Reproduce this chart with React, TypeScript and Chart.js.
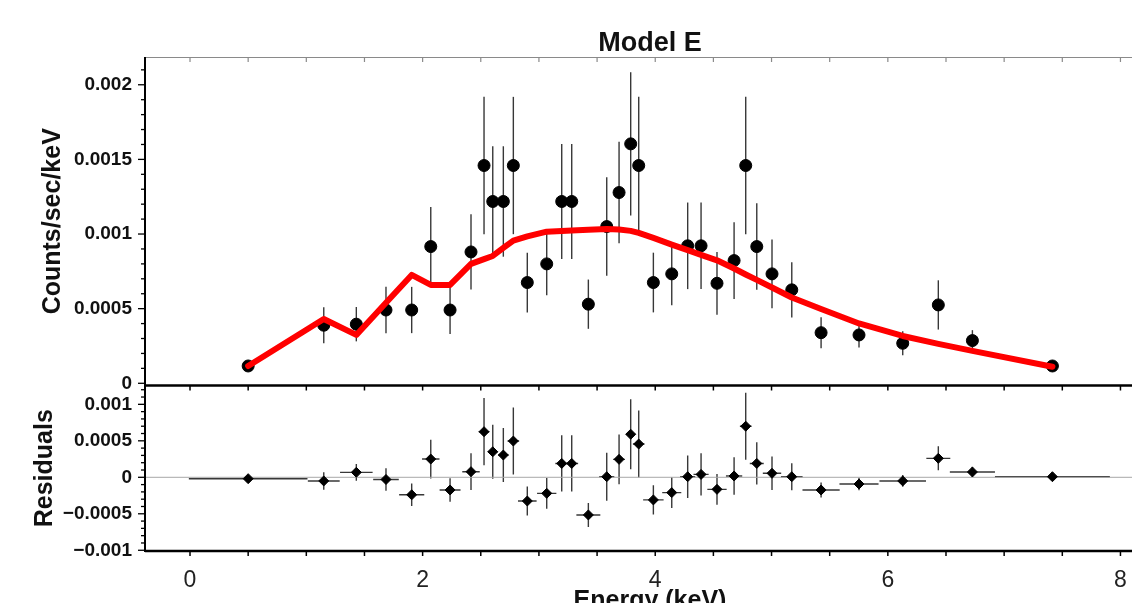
import React, { useEffect, useRef } from "react";
import { Chart, registerables } from "chart.js";

Chart.register(...registerables);

// ---- data ----
const energy = [0.50, 1.15, 1.43, 1.685, 1.906, 2.07, 2.236, 2.416, 2.528, 2.603, 2.694, 2.78, 2.9, 3.067, 3.196, 3.282, 3.425, 3.583, 3.689, 3.789, 3.858, 3.984, 4.142, 4.279, 4.394, 4.531, 4.678, 4.778, 4.873, 5.004, 5.174, 5.426, 5.752, 6.128, 6.434, 6.727, 7.415];
const energyHalfWidth = [0.51, 0.137, 0.14, 0.11, 0.108, 0.075, 0.09, 0.075, 0.045, 0.042, 0.045, 0.05, 0.08, 0.083, 0.055, 0.055, 0.103, 0.065, 0.05, 0.04, 0.05, 0.088, 0.082, 0.065, 0.065, 0.083, 0.07, 0.05, 0.06, 0.079, 0.093, 0.16, 0.168, 0.2, 0.103, 0.194, 0.494];
const counts = [0.000116, 0.000389, 0.000396, 0.000491, 0.000491, 0.000916, 0.000491, 0.00088, 0.001459, 0.001218, 0.001218, 0.001459, 0.000675, 0.0008, 0.001218, 0.001218, 0.00053, 0.00105, 0.001278, 0.001604, 0.001459, 0.000675, 0.000733, 0.000921, 0.000921, 0.00067, 0.000822, 0.001459, 0.000916, 0.000733, 0.000626, 0.000339, 0.000324, 0.000268, 0.000525, 0.000286, 0.000116];
const countsErr = [0.00002, 0.00012, 0.000115, 0.000155, 0.000155, 0.000265, 0.00016, 0.000252, 0.00046, 0.00037, 0.00037, 0.00046, 0.0002, 0.00021, 0.000385, 0.000385, 0.000165, 0.00033, 0.00034, 0.00048, 0.00046, 0.0002, 0.00021, 0.00029, 0.00029, 0.00021, 0.000257, 0.00046, 0.00029, 0.00023, 0.000185, 0.000104, 0.000085, 0.00008, 0.000165, 0.00007, 0.00002];
const model = [0.000116, 0.000431, 0.000324, 0.00054, 0.000726, 0.000659, 0.000659, 0.0008, 0.000832, 0.000853, 0.000907, 0.000956, 0.000984, 0.001016, 0.001021, 0.001023, 0.001028, 0.001033, 0.001031, 0.001021, 0.001008, 0.000974, 0.000929, 0.000892, 0.00086, 0.000824, 0.000769, 0.000729, 0.000693, 0.000642, 0.000575, 0.000498, 0.000401, 0.000317, 0.000264, 0.000217, 0.000111];
const residuals = [-0.000019, -0.00005, 0.000068, -0.00003, -0.00024, 0.00025, -0.000174, 0.000077, 0.000625, 0.00035, 0.000305, 0.000497, -0.000325, -0.00022, 0.00019, 0.00019, -0.000516, 0.000008, 0.000246, 0.00059, 0.000456, -0.00031, -0.00021, 0.000008, 0.00004, -0.000165, 0.000018, 0.0007, 0.00019, 0.000055, 0.000008, -0.000174, -0.000092, -0.00005, 0.00026, 0.000073, 0.000008];

const energyTicks = [0, 2, 4, 6, 8];
const energyTickLabels = ["0", "2", "4", "6", "8"];
const countTicks = [0, 0.0005, 0.001, 0.0015, 0.002];
const countTickLabels = ["0", "0.0005", "0.001", "0.0015", "0.002"];
const residTicks = [-0.001, -0.0005, 0, 0.0005, 0.001];
const residTickLabels = ["\u22120.001", "\u22120.0005", "0", "0.0005", "0.001"];

const FONT = "'Liberation Sans', Arial, Helvetica, sans-serif";
const CANVAS_W = 1170;
const CANVAS_H = 603;

function labelFor(values: number[], labels: string[], v: number) {
  const i = values.findIndex((t) => Math.abs(t - v) < 1e-9);
  return i >= 0 ? labels[i] : "";
}

const panelPlugin = {
  id: "panelDecor",
  beforeDatasetsDraw(chart: any) {
    const { ctx } = chart;
    const xs = chart.scales.x;
    const ys = chart.scales.y;
    const yr = chart.scales.yr;
    ctx.save();
    ctx.strokeStyle = "#383838";
    ctx.lineWidth = 1.4;
    energy.forEach((e, i) => {
      const px = xs.getPixelForValue(e);
      ctx.beginPath();
      ctx.moveTo(px, ys.getPixelForValue(counts[i] - countsErr[i]));
      ctx.lineTo(px, ys.getPixelForValue(counts[i] + countsErr[i]));
      ctx.stroke();
      const rp = yr.getPixelForValue(residuals[i]);
      ctx.beginPath();
      ctx.moveTo(px, yr.getPixelForValue(residuals[i] - countsErr[i]));
      ctx.lineTo(px, yr.getPixelForValue(residuals[i] + countsErr[i]));
      ctx.moveTo(xs.getPixelForValue(e - energyHalfWidth[i]), rp);
      ctx.lineTo(xs.getPixelForValue(e + energyHalfWidth[i]), rp);
      ctx.stroke();
    });
    ctx.restore();
  },
  afterDraw(chart: any) {
    const { ctx, chartArea } = chart;
    const xs = chart.scales.x;
    const ys = chart.scales.y;
    const yr = chart.scales.yr;
    const { left, right, top, bottom } = chartArea;
    const split = yr.top;
    const line = (x1: number, y1: number, x2: number, y2: number, c: string, w: number) => {
      ctx.strokeStyle = c;
      ctx.lineWidth = w;
      ctx.beginPath();
      ctx.moveTo(x1, y1);
      ctx.lineTo(x2, y2);
      ctx.stroke();
    };
    ctx.save();
    ctx.lineCap = "butt";
    // top border of upper panel
    line(left, top + 0.5, right, top + 0.5, "#8a8a8a", 1.2);
    for (let k = 0; k <= 16; k++) {
      const px = xs.getPixelForValue(k * 0.5);
      line(px, top, px, top + 5, "#8a8a8a", 1.2);
    }
    // divider between panels
    line(left, split, right, split, "#000", 2.5);
    for (let k = 0; k <= 16; k++) {
      const px = xs.getPixelForValue(k * 0.5);
      line(px, split, px, split + 5, "#000", 1.5);
    }
    // bottom frame
    line(left, bottom, right, bottom, "#000", 2.5);
    for (let k = 0; k <= 16; k++) {
      const px = xs.getPixelForValue(k * 0.5);
      line(px, bottom, px, bottom + 5, "#000", 1.5);
    }
    // left axis
    line(left, top, left, bottom + 1, "#000", 2);
    for (let k = 0; k <= 21; k++) {
      const v = k * 0.0001;
      const py = ys.getPixelForValue(v);
      const len = k % 5 === 0 ? 7 : 4;
      line(left - len, py, left, py, "#000", 1.3);
    }
    for (let k = -10; k <= 12; k++) {
      const v = k * 0.0001;
      const py = yr.getPixelForValue(v);
      const len = k % 5 === 0 ? 7 : 4;
      line(left - len, py, left, py, "#000", 1.3);
    }
    ctx.restore();
  },
};

export default function App() {
  const ref = useRef<HTMLCanvasElement | null>(null);

  useEffect(() => {
    const canvas = ref.current;
    if (!canvas) return;
    const chart = new Chart(canvas, {
      type: "scatter",
      data: {
        datasets: [
          {
            type: "line",
            label: "Model",
            data: energy.map((e, i) => ({ x: e, y: model[i] })),
            yAxisID: "y",
            borderColor: "#ff0000",
            borderWidth: 6,
            pointRadius: 0,
            tension: 0,
            borderJoinStyle: "round",
            borderCapStyle: "round",
            order: 0,
          } as any,
          {
            label: "Data",
            data: energy.map((e, i) => ({ x: e, y: counts[i] })),
            yAxisID: "y",
            pointStyle: "circle",
            pointRadius: 6,
            backgroundColor: "#000",
            borderColor: "#000",
            borderWidth: 1,
            order: 1,
          },
          {
            label: "Residuals",
            data: energy.map((e, i) => ({ x: e, y: residuals[i] })),
            yAxisID: "yr",
            pointStyle: "rectRot",
            pointRadius: 5,
            backgroundColor: "#000",
            borderColor: "#000",
            borderWidth: 1,
            order: 1,
          },
          {
            type: "line",
            label: "Zero",
            data: [
              { x: -1, y: 0 },
              { x: 9, y: 0 },
            ],
            yAxisID: "yr",
            borderColor: "#a8a8a8",
            borderWidth: 1,
            pointRadius: 0,
            order: 3,
          } as any,
        ],
      },
      options: {
        animation: false,
        responsive: false,
        devicePixelRatio: 1,
        layout: { padding: { left: 0, right: CANVAS_W - 1155, top: 0, bottom: 0 } },
        plugins: {
          legend: { display: false },
          tooltip: { enabled: false },
          title: {
            display: true,
            text: "Model E",
            fullSize: false,
            color: "#111",
            font: { family: FONT, size: 27, weight: "bold", lineHeight: 1 },
            padding: { top: 30, bottom: 0 },
          },
        },
        scales: {
          x: {
            type: "linear",
            position: "bottom",
            min: -0.387,
            max: 8.297,
            afterBuildTicks: (s: any) => {
              s.ticks = energyTicks.map((v) => ({ value: v }));
            },
            afterFit: (s: any) => {
              s.height = 52;
            },
            grid: { display: false },
            border: { display: false },
            ticks: {
              autoSkip: false,
              maxRotation: 0,
              padding: 8,
              color: "#222",
              font: { family: FONT, size: 23 },
              callback: (v: any) => labelFor(energyTicks, energyTickLabels, Number(v)),
            },
            title: {
              display: true,
              text: "Energy (keV)",
              color: "#111",
              font: { family: FONT, size: 25, weight: "bold", lineHeight: 1 },
              padding: { top: 0, bottom: -11 },
            },
          },
          yr: {
            type: "linear",
            position: "left",
            stack: "panels",
            stackWeight: 165.5,
            min: -0.00101,
            max: 0.001258,
            afterBuildTicks: (s: any) => {
              s.ticks = residTicks.map((v) => ({ value: v }));
            },
            afterFit: (s: any) => {
              s.width = 145;
            },
            grid: { display: false },
            border: { display: false },
            ticks: {
              autoSkip: false,
              padding: 5,
              color: "#111",
              font: { family: FONT, size: 19, weight: "bold" },
              callback: (v: any) => labelFor(residTicks, residTickLabels, Number(v)),
            },
            title: {
              display: true,
              text: "Residuals",
              color: "#111",
              font: { family: FONT, size: 25, weight: "bold", lineHeight: 1.2 },
              padding: { top: 30, bottom: 0 },
            },
          },
          y: {
            type: "linear",
            position: "left",
            stack: "panels",
            stackWeight: 328.5,
            min: -0.0000148,
            max: 0.002186,
            afterBuildTicks: (s: any) => {
              s.ticks = countTicks.map((v) => ({ value: v }));
            },
            afterFit: (s: any) => {
              s.width = 145;
            },
            grid: { display: false },
            border: { display: false },
            ticks: {
              autoSkip: false,
              padding: 5,
              color: "#111",
              font: { family: FONT, size: 19, weight: "bold" },
              callback: (v: any) => labelFor(countTicks, countTickLabels, Number(v)),
            },
            title: {
              display: true,
              text: "Counts/sec/keV",
              color: "#111",
              font: { family: FONT, size: 25, weight: "bold", lineHeight: 1.2 },
              padding: { top: 38, bottom: 0 },
            },
          },
        },
      } as any,
      plugins: [panelPlugin],
    });
    return () => chart.destroy();
  }, []);

  return (
    <div
      style={{
        position: "absolute",
        left: 0,
        top: 0,
        width: 1132,
        height: 603,
        overflow: "hidden",
        background: "#fff",
      }}
    >
      <canvas ref={ref} width={CANVAS_W} height={CANVAS_H} style={{ display: "block", width: CANVAS_W, height: CANVAS_H }} />
    </div>
  );
}
